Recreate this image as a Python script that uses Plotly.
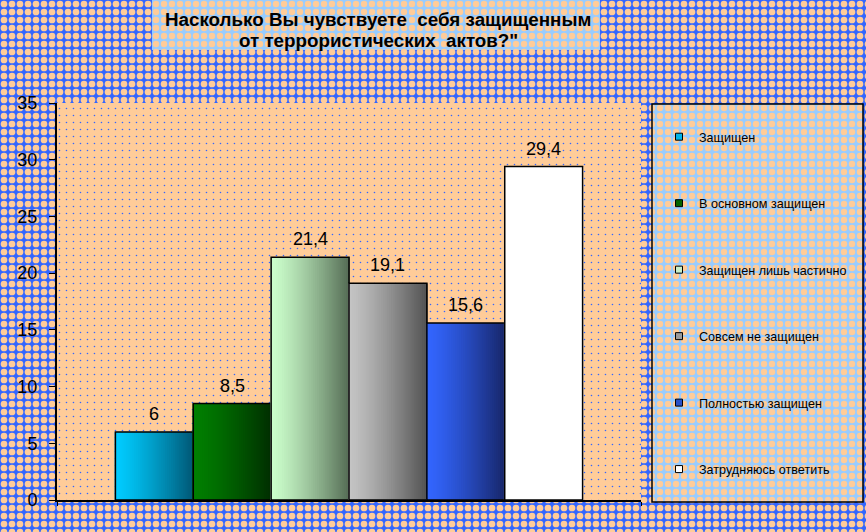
import plotly.graph_objects as go

# ---------------- data ----------------
categories = ["Защищен", "В основном защищен", "Защищен лишь частично",
              "Совсем не защищен", "Полностью защищен", "Затрудняюсь ответить"]
values = [6, 8.5, 21.4, 19.1, 15.6, 29.4]
y_ticks = [0, 5, 10, 15, 20, 25, 30, 35]
title_lines = ["Насколько Вы чувствуете  себя защищенным", "от террористических  актов?\""]

# ---------------- styles ----------------
left_colors = ["#00ccff", "#008000", "#ccffcc", "#c4c4c4", "#3366ff", "#ffffff"]
right_colors = ["#005a78", "#003000", "#587058", "#555555", "#18286e", "#ffffff"]
legend_colors = ["#00b4e6", "#006400", "#c8f0c8", "#9a9a9a", "#2850c8", "#ffffff"]
FONT = "Arial, Liberation Sans, sans-serif"
W, H = 866, 532
PEACH, BLUE, LBLUE = "#ffcc99", "#3366ff", "#99ccff"
title_y_px = [19.5, 40]


def px(x):
    return x / W


def py(y):
    return 1 - y / H


def hex2rgb(h):
    h = h.lstrip("#")
    return tuple(int(h[i:i + 2], 16) for i in (0, 2, 4))


def mix(c1, c2, t):
    a, b = hex2rgb(c1), hex2rgb(c2)
    return "rgb(%d,%d,%d)" % tuple(round(a[k] + (b[k] - a[k]) * t) for k in range(3))


fig = go.Figure()


# ---------- decorative patterned backgrounds (on a full-page helper axis) ----------
def bg_rect(x0, x1, y0, y1, bg, fg, size, sol, lw=0):
    fig.add_trace(go.Bar(
        x=[(px(x0) + px(x1)) / 2], y=[py(y0) - py(y1)], base=[py(y1)],
        width=[px(x1) - px(x0)], xaxis="x", yaxis="y",
        marker=dict(color=bg, line=dict(width=lw, color="black"),
                    pattern=dict(shape=".", fgcolor=fg, bgcolor=bg, size=size,
                                 solidity=sol, fillmode="replace")),
        hoverinfo="skip", showlegend=False))


bg_rect(0, W, 0, H, BLUE, PEACH, 8, 0.55)              # page
bg_rect(57, 641, 103, 500, PEACH, BLUE, 7, 0.04)        # plot area
bg_rect(152, 600, 0, 50, LBLUE, PEACH, 8, 0.5)          # title box
bg_rect(652, 863, 104, 502, LBLUE, PEACH, 8, 0.5, lw=1.5)  # legend box

# ---------- gradient bars ----------
N = 40
for i, (cat, v) in enumerate(zip(categories, values)):
    xs, cols = [], []
    for j in range(N):
        t = j / (N - 1)
        xs.append(i - 0.5 + (j + 0.5) / N)
        cols.append(mix(left_colors[i], right_colors[i], t ** 1.25))
    fig.add_trace(go.Bar(
        x=xs, y=[v] * N, width=[1.0 / N + 0.02] * N, xaxis="x2", yaxis="y2",
        marker=dict(color=cols, line=dict(width=0)),
        hoverinfo="skip", showlegend=False))
    # outline
    fig.add_trace(go.Bar(
        x=[i], y=[v], width=[1.0], xaxis="x2", yaxis="y2", name=cat,
        marker=dict(color="rgba(0,0,0,0)", line=dict(width=1.5, color="black")),
        showlegend=False))
    # legend entry
    fig.add_trace(go.Scatter(
        x=[None], y=[None], mode="markers", name=cat, legendgroup=cat,
        xaxis="x2", yaxis="y2",
        marker=dict(symbol="square", size=7, color=legend_colors[i],
                    line=dict(width=1, color="black"))))
    fig.add_annotation(
        x=i, y=v, xref="x2", yref="y2", text=str(v).replace(".", ","),
        showarrow=False, yanchor="bottom", yshift=6,
        font=dict(family=FONT, size=18, color="black"))

# title: two centred bold lines
for line, ypx in zip(title_lines, title_y_px):
    fig.add_annotation(
        x=px(378), y=py(ypx), xref="paper", yref="paper",
        text="<b>" + line + "</b>", showarrow=False,
        xanchor="center", yanchor="middle",
        font=dict(family=FONT, size=18.8, color="black"))

fig.update_layout(
    width=W, height=H,
    margin=dict(l=0, r=0, t=0, b=0, autoexpand=False),
    paper_bgcolor="#8fa0e0",
    plot_bgcolor="rgba(0,0,0,0)",
    barmode="overlay",
    font=dict(family=FONT, color="black"),
    xaxis=dict(domain=[0, 1], range=[0, 1], visible=False, fixedrange=True),
    yaxis=dict(domain=[0, 1], range=[0, 1], visible=False, fixedrange=True),
    xaxis2=dict(domain=[px(57), px(641)], anchor="y2", range=[-1.25, 6.25],
                showline=True, linecolor="black", linewidth=2,
                tickvals=[-1.25, 6.25], ticks="outside", ticklen=4,
                tickcolor="black", showticklabels=False, showgrid=False,
                zeroline=False, fixedrange=True),
    yaxis2=dict(domain=[py(500), py(103)], anchor="x2", range=[0, 35],
                tickvals=y_ticks, ticks="outside", ticklen=6, tickcolor="black",
                showline=True, linecolor="black", linewidth=2,
                showgrid=False, zeroline=False, ticklabelstandoff=8,
                tickfont=dict(family=FONT, size=18, color="black"),
                fixedrange=True),
    legend=dict(x=px(659), xanchor="left", y=py(122), yanchor="top",
                bgcolor="rgba(0,0,0,0)", borderwidth=0,
                tracegroupgap=47.1, itemsizing="trace",
                font=dict(family=FONT, size=12.6, color="black")),
)

fig.write_html("out.html", config={"displayModeBar": False},
               post_script="document.body.style.margin='0';"
                           "document.body.style.padding='0';")
